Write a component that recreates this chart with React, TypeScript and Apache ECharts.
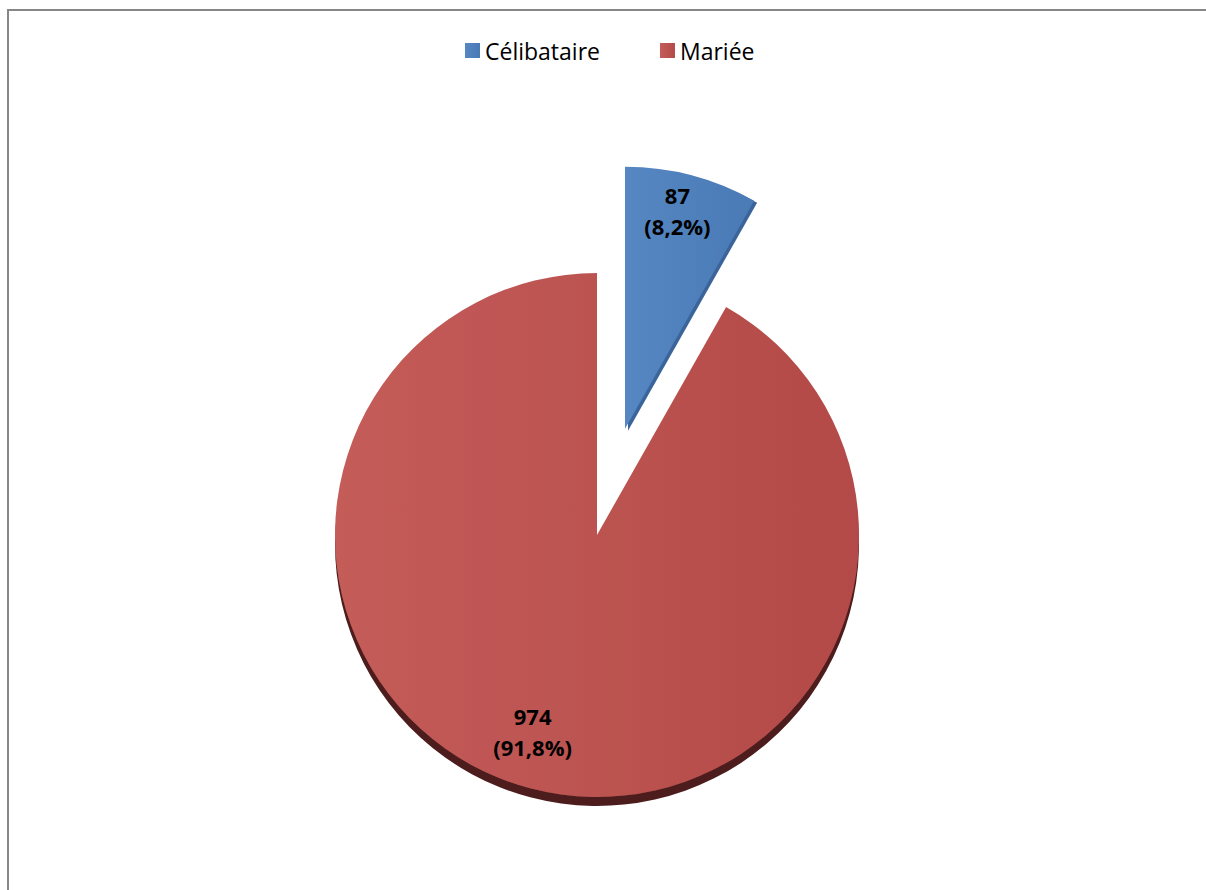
import React, { useEffect, useRef } from "react";
import * as echarts from "echarts";

const categories = ["Célibataire", "Mariée"];
const values = [87, 974];
const percentLabels = ["8,2%", "91,8%"];
const colors = [
  ["#5587C3", "#4A7AB5"],
  ["#C45C59", "#B34A48"],
];

export default function App() {
  const ref = useRef<HTMLDivElement>(null);

  useEffect(() => {
    document.body.style.margin = "0";
    document.body.style.overflow = "hidden";
    if (!ref.current) return;
    const chart = echarts.init(ref.current, null, { renderer: "svg" });
    const total = values.reduce((a, b) => a + b, 0);
    const R = 262;
    const labelRadius = 0.81 * R;
    const labelTurn = -1;

    const midAngles: number[] = [];
    let cum = 0;
    values.forEach((v) => {
      midAngles.push(90 - (360 * (cum + v / 2)) / total);
      cum += v;
    });

    const data = categories.map((name, i) => ({
      name,
      value: values[i],
      selected: i === 0,
      itemStyle: {
        color: new echarts.graphic.LinearGradient(0, 0, 1, 0, [
          { offset: 0, color: colors[i][0] },
          { offset: 1, color: colors[i][1] },
        ]),
        shadowColor: i === 0 ? "#3B659A" : "#4E1E1E",
        shadowBlur: 0,
        shadowOffsetX: i === 0 ? 3 : 0,
        shadowOffsetY: i === 0 ? 2 : 9,
      },
    }));

    chart.setOption({
      animation: false,
      backgroundColor: "#ffffff",
      legend: {
        data: categories,
        left: 465,
        top: 39,
        padding: 0,
        itemWidth: 15,
        itemHeight: 15,
        itemGap: 60,
        icon: "rect",
        selectedMode: false,
        textStyle: {
          fontFamily: "Open Sans",
          fontSize: 23,
          color: "#000000",
        },
      },
      graphic: [
        {
          type: "line",
          shape: { x1: 8, y1: 9, x2: 8, y2: 900 },
          style: { stroke: "#878787", lineWidth: 2 },
          silent: true,
        },
        {
          type: "line",
          shape: { x1: 7, y1: 10, x2: 1240, y2: 10 },
          style: { stroke: "#878787", lineWidth: 2 },
          silent: true,
        },
      ],
      series: [
        {
          type: "pie",
          center: [597, 535],
          radius: [0, R],
          startAngle: 90,
          clockwise: true,
          selectedMode: "single",
          selectedOffset: 110,
          avoidLabelOverlap: false,
          emphasis: { scale: false, disabled: true },
          label: {
            show: true,
            position: "inside",
            rotate: 0,
            fontFamily: "Open Sans",
            fontWeight: "bold",
            fontSize: 22,
            lineHeight: 31,
            color: "#000000",
            formatter: (p: any) =>
              `${values[p.dataIndex]}\n(${percentLabels[p.dataIndex]})`,
          },
          labelLine: { show: false },
          labelLayout: (p: any) => {
            const a = (midAngles[p.dataIndex] * Math.PI) / 180;
            const b = ((midAngles[p.dataIndex] + labelTurn) * Math.PI) / 180;
            return {
              dx: labelRadius * Math.cos(b) - 0.5 * R * Math.cos(a) - 6,
              dy: -(labelRadius * Math.sin(b) - 0.5 * R * Math.sin(a)) - 11,
            };
          },
          data,
        },
      ],
    });

    return () => chart.dispose();
  }, []);

  return <div ref={ref} style={{ width: 1206, height: 890 }} />;
}
